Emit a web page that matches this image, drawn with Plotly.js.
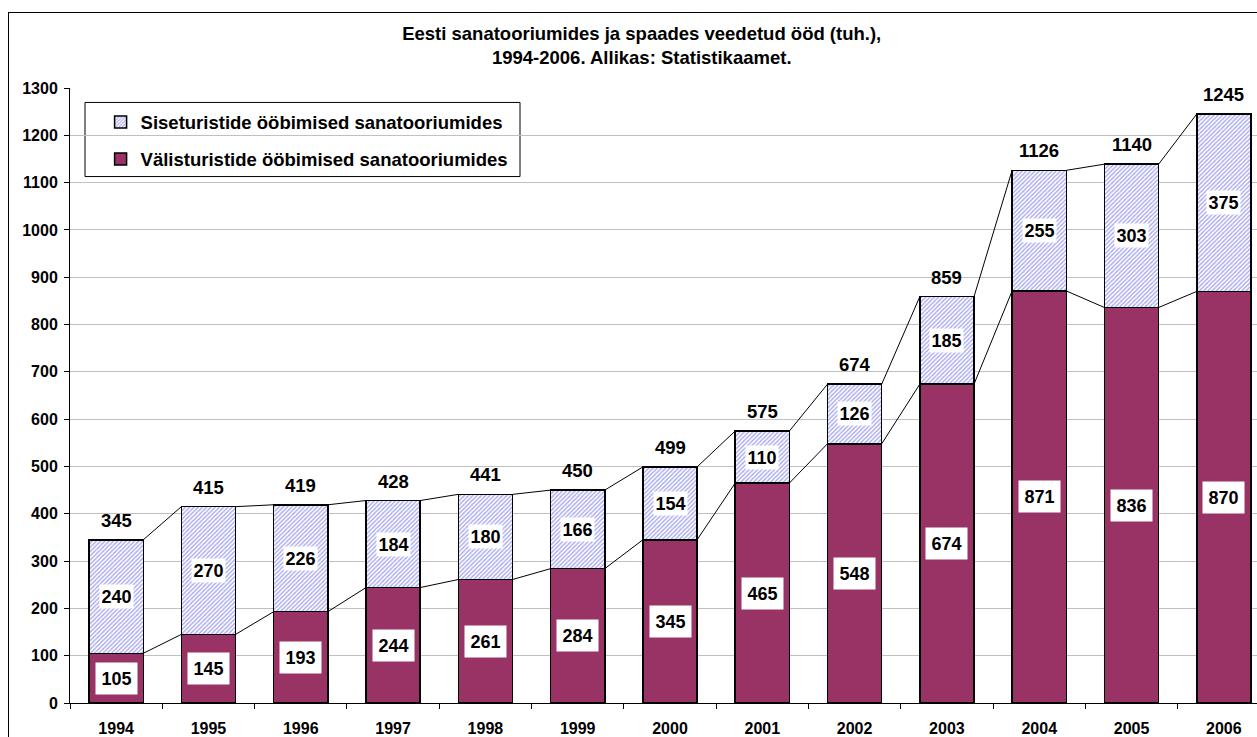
<!DOCTYPE html>
<html>
<head>
<meta charset="utf-8">
<script src="https://cdn.plot.ly/plotly-3.0.1.min.js"></script>
<style>
  html, body { margin: 0; padding: 0; overflow: hidden; background: #fff; width: 1257px; height: 737px; }
  #chart { position: absolute; left: 8px; top: 12px; width: 1310px; height: 760px; border: 1px solid #000; }
</style>
</head>
<body>
<div id="chart"></div>
<script>
// ---- data ----
const years = ['1994','1995','1996','1997','1998','1999','2000','2001','2002','2003','2004','2005','2006'];
const foreignNights = [105, 145, 193, 244, 261, 284, 345, 465, 548, 674, 871, 836, 870];   // Välisturistide
const domesticNights = [240, 270, 226, 184, 180, 166, 154, 110, 126, 185, 255, 303, 375];  // Siseturistide
const totalLabels = [345, 415, 419, 428, 441, 450, 499, 575, 674, 859, 1126, 1140, 1245];
const seriesNames = ['Välisturistide ööbimised sanatooriumides', 'Siseturistide ööbimised sanatooriumides'];
const titleText = 'Eesti sanatooriumides ja spaades veedetud ööd (tuh.),<br>1994-2006. Allikas: Statistikaamet.';

// ---- styles ----
const FONT = 'Liberation Sans, Arial, sans-serif';
const BAR_W = 0.587;
const half = BAR_W / 2;
const idx = years.map((_, i) => i);
const stackTop = idx.map(i => foreignNights[i] + domesticNights[i]);

function seriesLine(vals) {
  const xs = [], ys = [];
  for (let i = 0; i < vals.length - 1; i++) {
    xs.push(i + half, i + 1 - half, null);
    ys.push(vals[i], vals[i + 1], null);
  }
  return { type: 'scatter', mode: 'lines', x: xs, y: ys, xaxis: 'x2', yaxis: 'y',
           line: { color: '#000', width: 1 }, showlegend: false, hoverinfo: 'skip', cliponaxis: false };
}

const traces = [
  { type: 'bar', name: seriesNames[0], x: idx, y: foreignNights, width: BAR_W,
    legendgroup: 'a', legendrank: 2,
    marker: { color: '#993366', line: { color: '#000', width: 1.5 } } },
  { type: 'bar', name: seriesNames[1], x: idx, y: domesticNights, width: BAR_W,
    legendgroup: 'b', legendrank: 1,
    marker: { color: '#ffffff', line: { color: '#000', width: 1.5 },
              pattern: { shape: '/', fgcolor: '#a8a8f0', bgcolor: '#ffffff', size: 3, solidity: 0.45 } } },
  seriesLine(foreignNights),
  seriesLine(stackTop)
];

const labelFont = { family: FONT, size: 18, color: '#000', weight: 'bold' };
const annotations = [];
idx.forEach(i => {
  annotations.push({ x: i, y: foreignNights[i] / 2, xref: 'x', yref: 'y', text: String(foreignNights[i]),
    showarrow: false, bgcolor: '#fff', borderpad: 5.5, font: labelFont });
  annotations.push({ x: i, y: foreignNights[i] + domesticNights[i] / 2, xref: 'x', yref: 'y', text: String(domesticNights[i]),
    showarrow: false, bgcolor: '#fff', borderpad: 1.5, font: labelFont });
  annotations.push({ x: i, y: stackTop[i], xref: 'x', yref: 'y', text: String(totalLabels[i]), yanchor: 'bottom', yshift: 7,
    showarrow: false, font: { family: FONT, size: 18.5, color: '#000', weight: 'bold' } });
});

const layout = {
  width: 1310, height: 760,
  margin: { l: 61, r: 49, t: 75, b: 70 },
  paper_bgcolor: '#fff', plot_bgcolor: '#fff',
  barmode: 'stack',
  showlegend: true,
  title: { text: titleText, xref: 'container', yref: 'container', x: 0.483, y: 0.965, xanchor: 'center', yanchor: 'middle',
           font: { family: FONT, size: 18.5, color: '#000', weight: 'bold' } },
  xaxis: { range: [-0.5, 12.5], tickmode: 'array', tickvals: idx.concat([idx.length]).map(v => v - 0.5),
           showticklabels: false, ticks: 'outside', ticklen: 5, tickcolor: '#000', tickwidth: 1,
           showline: true, linecolor: '#000', linewidth: 1, showgrid: false, zeroline: false, fixedrange: true },
  xaxis2: { range: [-0.5, 12.5], overlaying: 'x', anchor: 'y', side: 'bottom', tickmode: 'array', tickvals: idx, ticktext: years,
            ticks: '', ticklabelstandoff: 14, showline: false, showgrid: false, zeroline: false,
            tickfont: { family: FONT, size: 16, color: '#000', weight: 'bold' } },
  yaxis: { range: [0, 1300], tickmode: 'array', tickvals: [0,100,200,300,400,500,600,700,800,900,1000,1100,1200,1300],
           ticks: 'outside', ticklen: 5, tickcolor: '#000', showline: true, linecolor: '#000', linewidth: 1,
           gridcolor: '#c0c0c0', gridwidth: 1, zeroline: false, ticklabelstandoff: 3,
           tickfont: { family: FONT, size: 16, color: '#000', weight: 'bold' } },
  legend: { x: 0.0255, y: 0.975, xanchor: 'left', yanchor: 'top', bgcolor: 'rgba(0,0,0,0)', borderwidth: 0,
            traceorder: 'grouped', tracegroupgap: 10,
            font: { family: FONT, size: 18.5, color: '#000', weight: 'bold' } },
  shapes: [
    { type: 'rect', xref: 'paper', yref: 'paper', x0: 0.0125, x1: 0.375, y0: 0.856, y1: 0.9765,
      line: { color: '#000', width: 1 }, fillcolor: '#fff', layer: 'below' }
  ],
  annotations: annotations
};

Plotly.newPlot('chart', traces, layout, { displayModeBar: false, staticPlot: true });
</script>
</body>
</html>
